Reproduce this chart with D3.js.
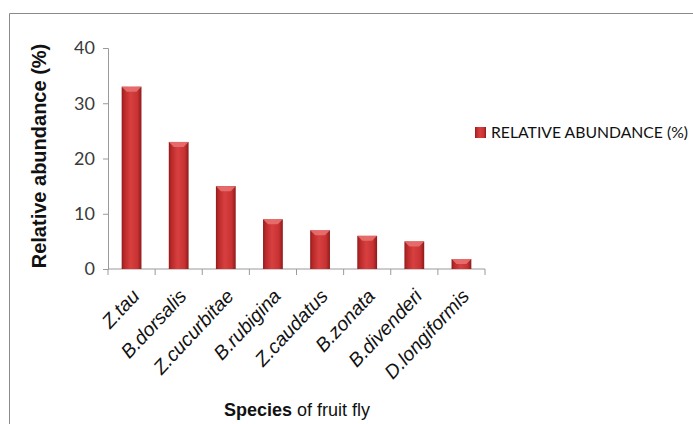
<!DOCTYPE html>
<html><head><meta charset="utf-8">
<script src="https://cdn.jsdelivr.net/npm/d3@7"></script>
<style>body{margin:0;background:#fff}svg{display:block}</style>
</head><body>
<script>
const categories = ["Z.tau","B.dorsalis","Z.cucurbitae","B.rubigina","Z.caudatus","B.zonata","B.divenderi","D.longiformis"];
const values = [33,23,15,9,7,6,5,1.8];
const yTicks = [0,10,20,30,40];
const seriesName = "RELATIVE ABUNDANCE (%)";

const W=693,H=424;
const svg=d3.select("body").append("svg").attr("width",W).attr("height",H);
const defs=svg.append("defs");
const g=defs.append("linearGradient").attr("id","barg").attr("x1","0").attr("x2","1").attr("y1","0").attr("y2","0");
[[0,"#8e1a1a"],[0.12,"#b82828"],[0.45,"#d84040"],[0.8,"#c83232"],[1,"#8e1a1a"]].forEach(([o,c])=>g.append("stop").attr("offset",o).attr("stop-color",c));

// frame
svg.append("path").attr("d","M9.5,424 V13.5 H693").attr("fill","none").attr("stroke","#8a8a8a").attr("stroke-width",1);

const x=d3.scaleBand().domain(categories).range([108,485]).paddingInner(0.58).paddingOuter(0.29);
const y=d3.scaleLinear().domain([0,40]).range([269,48]);

// y axis
const ya=svg.append("g").attr("transform","translate(108,0)")
  .call(d3.axisLeft(y).tickValues(yTicks).tickSize(5).tickPadding(8).tickFormat(d3.format("d")));
ya.select(".domain").attr("stroke","#9a9a9a");
ya.selectAll(".tick line").attr("stroke","#9a9a9a");
ya.selectAll("text").attr("font-family","Lato, 'Open Sans', sans-serif").attr("font-size",18).attr("fill","#3a3a3a");

// x axis
const xa=svg.append("g").attr("transform","translate(0,269)");
xa.append("line").attr("x1",108).attr("x2",485).attr("stroke","#9a9a9a");
const bounds=d3.range(categories.length+1).map(i=>108+i*(377/categories.length));
xa.selectAll("line.t").data(bounds).join("line").attr("class","t")
  .attr("x1",d=>d).attr("x2",d=>d).attr("y1",0).attr("y2",6).attr("stroke","#9a9a9a");
xa.selectAll("text.lab").data(categories).join("text").attr("class","lab")
  .attr("transform",d=>`translate(${x(d)+x.bandwidth()/2+9},${28}) rotate(-47)`)
  .attr("text-anchor","end").attr("font-family","'Liberation Sans', Arial, sans-serif")
  .attr("font-style","italic").attr("font-size",19.5).attr("fill","#111").text(d=>d);

// bars
const bars=svg.append("g");
bars.selectAll("rect").data(values).join("rect")
  .attr("x",(d,i)=>x(categories[i])).attr("width",x.bandwidth())
  .attr("y",d=>y(d)).attr("height",d=>269-y(d)).attr("fill","url(#barg)");
bars.selectAll("path").data(values).join("path")
  .attr("d",(d,i)=>{const x0=x(categories[i]),w=x.bandwidth(),t=y(d);const h=Math.min(5,(269-t)*0.5);
    return `M${x0},${t} H${x0+w} L${x0+w-5},${t+h} H${x0+5} Z`;})
  .attr("fill","#e87070").attr("opacity",0.9);

// y title
svg.append("text").attr("transform","translate(46,156) rotate(-90)").attr("text-anchor","middle")
  .attr("font-family","'Liberation Sans', Arial, sans-serif").attr("font-weight","bold").attr("font-size",20)
  .attr("fill","#111").text("Relative abundance (%)");

// x title
const xt=svg.append("text").attr("x",297).attr("y",416).attr("text-anchor","middle")
  .attr("font-family","'Liberation Sans', Arial, sans-serif").attr("font-size",18).attr("fill","#111");
xt.append("tspan").attr("font-weight","bold").text("Species");
xt.append("tspan").text(" of fruit fly");

// legend
svg.append("rect").attr("x",475).attr("y",127).attr("width",11).attr("height",11).attr("fill","url(#barg)");
svg.append("text").attr("x",491).attr("y",138).attr("font-family","Lato, 'Open Sans', sans-serif")
  .attr("font-size",16).attr("fill","#111").attr("textLength",197).attr("lengthAdjust","spacingAndGlyphs").text(seriesName);
</script>
</body></html>
